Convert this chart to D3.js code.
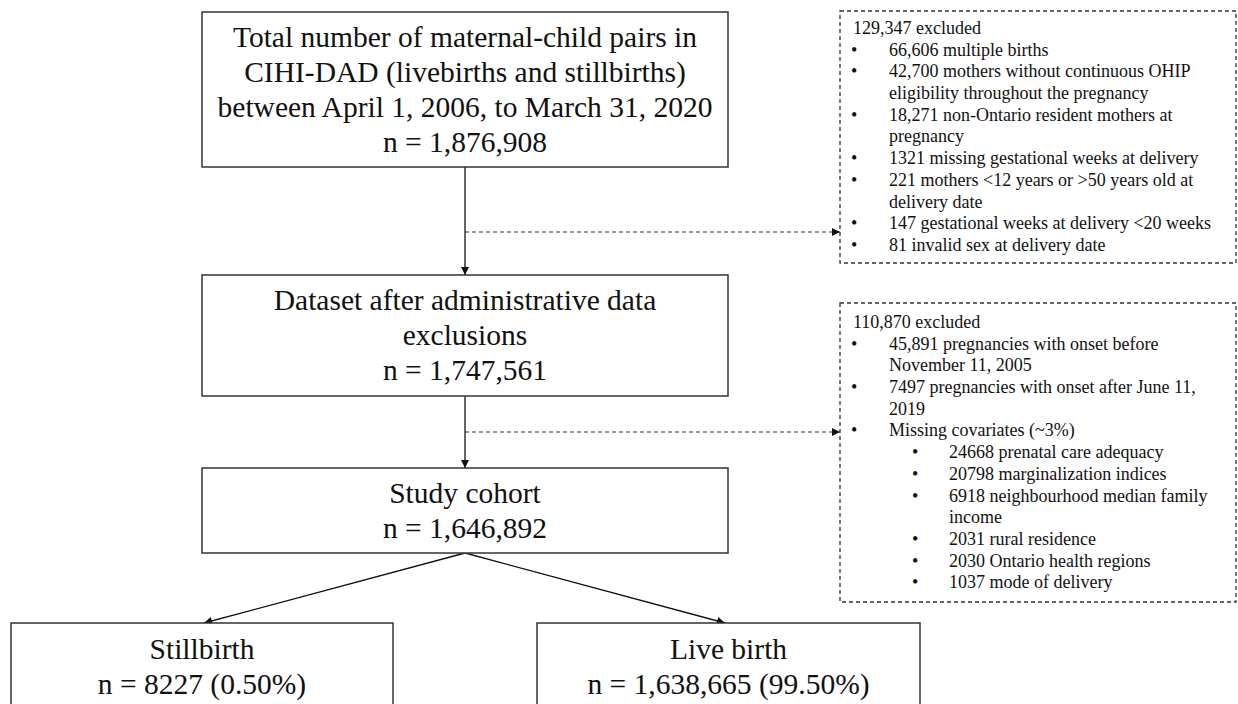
<!DOCTYPE html>
<html lang="en">
<head>
    <meta charset="UTF-8">
    <title>Cohort Flow Diagram</title>
    <script src="https://cdn.jsdelivr.net/npm/d3@7"></script>
    <style type="text/css">
        body { margin: 0; background: #fff; }
        svg text { font-family: "Liberation Serif", "Times New Roman", serif; fill: #111; }
        .box { fill: #fff; stroke: #333; stroke-width: 1.5; }
        .dbox { fill: #fff; stroke: #333; stroke-width: 1.3; stroke-dasharray: 4 3; }
        .link { stroke: #111; stroke-width: 1.3; fill: none; }
        .dlink { stroke: #333; stroke-width: 1.2; fill: none; stroke-dasharray: 4 3; }
    </style>
</head>
<body>
<div id="vis"></div>
<script type="text/javascript">

    // text of each flow box, one entry per printed line
    let totalLines = ["Total number of maternal-child pairs in",
        "CIHI-DAD (livebirths and stillbirths)",
        "between April 1, 2006, to March 31, 2020",
        "n = 1,876,908"];
    let adminLines = ["Dataset after administrative data", "exclusions", "n = 1,747,561"];
    let cohortLines = ["Study cohort", "n = 1,646,892"];
    let stillbirthLines = ["Stillbirth", "n = 8227 (0.50%)"];
    let livebirthLines = ["Live birth", "n = 1,638,665 (99.50%)"];

    // exclusion lists: level 1 = bullet, level 2 = sub bullet
    let exclusion1Title = "129,347 excluded";
    let exclusion1Items = [
        {level: 1, lines: ["66,606 multiple births"]},
        {level: 1, lines: ["42,700 mothers without continuous OHIP", "eligibility throughout the pregnancy"]},
        {level: 1, lines: ["18,271 non-Ontario resident mothers at", "pregnancy"]},
        {level: 1, lines: ["1321 missing gestational weeks at delivery"]},
        {level: 1, lines: ["221 mothers <12 years or >50 years old at", "delivery date"]},
        {level: 1, lines: ["147 gestational weeks at delivery <20 weeks"]},
        {level: 1, lines: ["81 invalid sex at delivery date"]}
    ];
    let exclusion2Title = "110,870 excluded";
    let exclusion2Items = [
        {level: 1, lines: ["45,891 pregnancies with onset before", "November 11, 2005"]},
        {level: 1, lines: ["7497 pregnancies with onset after June 11,", "2019"]},
        {level: 1, lines: ["Missing covariates (~3%)"]},
        {level: 2, lines: ["24668 prenatal care adequacy"]},
        {level: 2, lines: ["20798 marginalization indices"]},
        {level: 2, lines: ["6918 neighbourhood median family", "income"]},
        {level: 2, lines: ["2031 rural residence"]},
        {level: 2, lines: ["2030 Ontario health regions"]},
        {level: 2, lines: ["1037 mode of delivery"]}
    ];

    let width = 1238, height = 704;
    let svg = d3.select("#vis").append("svg")
        .attr("width", width)
        .attr("height", height);

    let defs = svg.append("defs");
    defs.append("marker")
        .attr("id", "arrow")
        .attr("viewBox", "0 0 10 10")
        .attr("refX", 10).attr("refY", 5)
        .attr("markerWidth", 9).attr("markerHeight", 8)
        .attr("markerUnits", "userSpaceOnUse")
        .attr("orient", "auto")
        .append("path")
        .attr("d", "M0,0 L10,5 L0,10 Z")
        .attr("fill", "#111");

    // layout of the boxes (pixels)
    let mainFont = 29.5, mainStep = 35;
    let listFont = 18, listStep = 21.7;
    let layout = {
        total:  {x: 202, y: 12, w: 526, h: 155},
        admin:  {x: 202, y: 275, w: 526, h: 121},
        cohort: {x: 202, y: 468, w: 526, h: 85},
        still:  {x: 11, y: 623, w: 382, h: 120, textY: 649},
        live:   {x: 537, y: 623, w: 383, h: 120, textY: 649},
        ex1:    {x: 840, y: 11, w: 396, h: 252, textY: 28},
        ex2:    {x: 840, y: 303, w: 396, h: 299, textY: 322}
    };

    function drawBox(b, lines) {
        svg.append("rect").attr("class", "box")
            .attr("x", b.x).attr("y", b.y).attr("width", b.w).attr("height", b.h);
        let cx = b.x + b.w / 2;
        let first = b.textY !== undefined ? b.textY
            : b.y + b.h / 2 - (lines.length - 1) * mainStep / 2;
        svg.append("g").selectAll("text")
            .data(lines)
            .join("text")
            .attr("x", cx)
            .attr("y", (d, i) => first + i * mainStep)
            .attr("dy", "0.33em")
            .attr("text-anchor", "middle")
            .style("font-size", mainFont + "px")
            .text(d => d);
    }

    function drawList(b, title, items) {
        svg.append("rect").attr("class", "dbox")
            .attr("x", b.x).attr("y", b.y).attr("width", b.w).attr("height", b.h);
        let rows = [{kind: "title", text: title}];
        items.forEach(function (it) {
            it.lines.forEach(function (ln, j) {
                rows.push({kind: "item", level: it.level, text: ln, bullet: j === 0});
            });
        });
        let g = svg.append("g").style("font-size", listFont + "px");
        rows.forEach(function (r, i) {
            let y = b.textY + i * listStep;
            if (r.kind === "title") {
                g.append("text").attr("x", b.x + 13).attr("y", y).attr("dy", "0.33em").text(r.text);
                return;
            }
            let bx = r.level === 1 ? b.x + 11 : b.x + 72;
            let tx = r.level === 1 ? b.x + 49 : b.x + 109;
            if (r.bullet) {
                g.append("text").attr("x", bx).attr("y", y).attr("dy", "0.33em").text("\u2022");
            }
            g.append("text").attr("x", tx).attr("y", y).attr("dy", "0.33em").text(r.text);
        });
    }

    // solid flow arrows
    let midX = layout.total.x + layout.total.w / 2;
    let lineGen = d3.line();
    let solid = [
        [[midX, layout.total.y + layout.total.h], [midX, layout.admin.y]],
        [[midX, layout.admin.y + layout.admin.h], [midX, layout.cohort.y]],
        [[midX, layout.cohort.y + layout.cohort.h], [204, layout.still.y]],
        [[midX, layout.cohort.y + layout.cohort.h], [725, layout.live.y]]
    ];
    svg.selectAll("path.link").data(solid).join("path")
        .attr("class", "link")
        .attr("d", lineGen)
        .attr("marker-end", "url(#arrow)");

    // dashed exclusion arrows
    let dashed = [
        [[midX, 232], [layout.ex1.x, 232]],
        [[midX, 432], [layout.ex2.x, 432]]
    ];
    svg.selectAll("path.dlink").data(dashed).join("path")
        .attr("class", "dlink")
        .attr("d", lineGen)
        .attr("marker-end", "url(#arrow)");

    drawBox(layout.total, totalLines);
    drawBox(layout.admin, adminLines);
    drawBox(layout.cohort, cohortLines);
    drawBox(layout.still, stillbirthLines);
    drawBox(layout.live, livebirthLines);
    drawList(layout.ex1, exclusion1Title, exclusion1Items);
    drawList(layout.ex2, exclusion2Title, exclusion2Items);
</script>
</body>
</html>
